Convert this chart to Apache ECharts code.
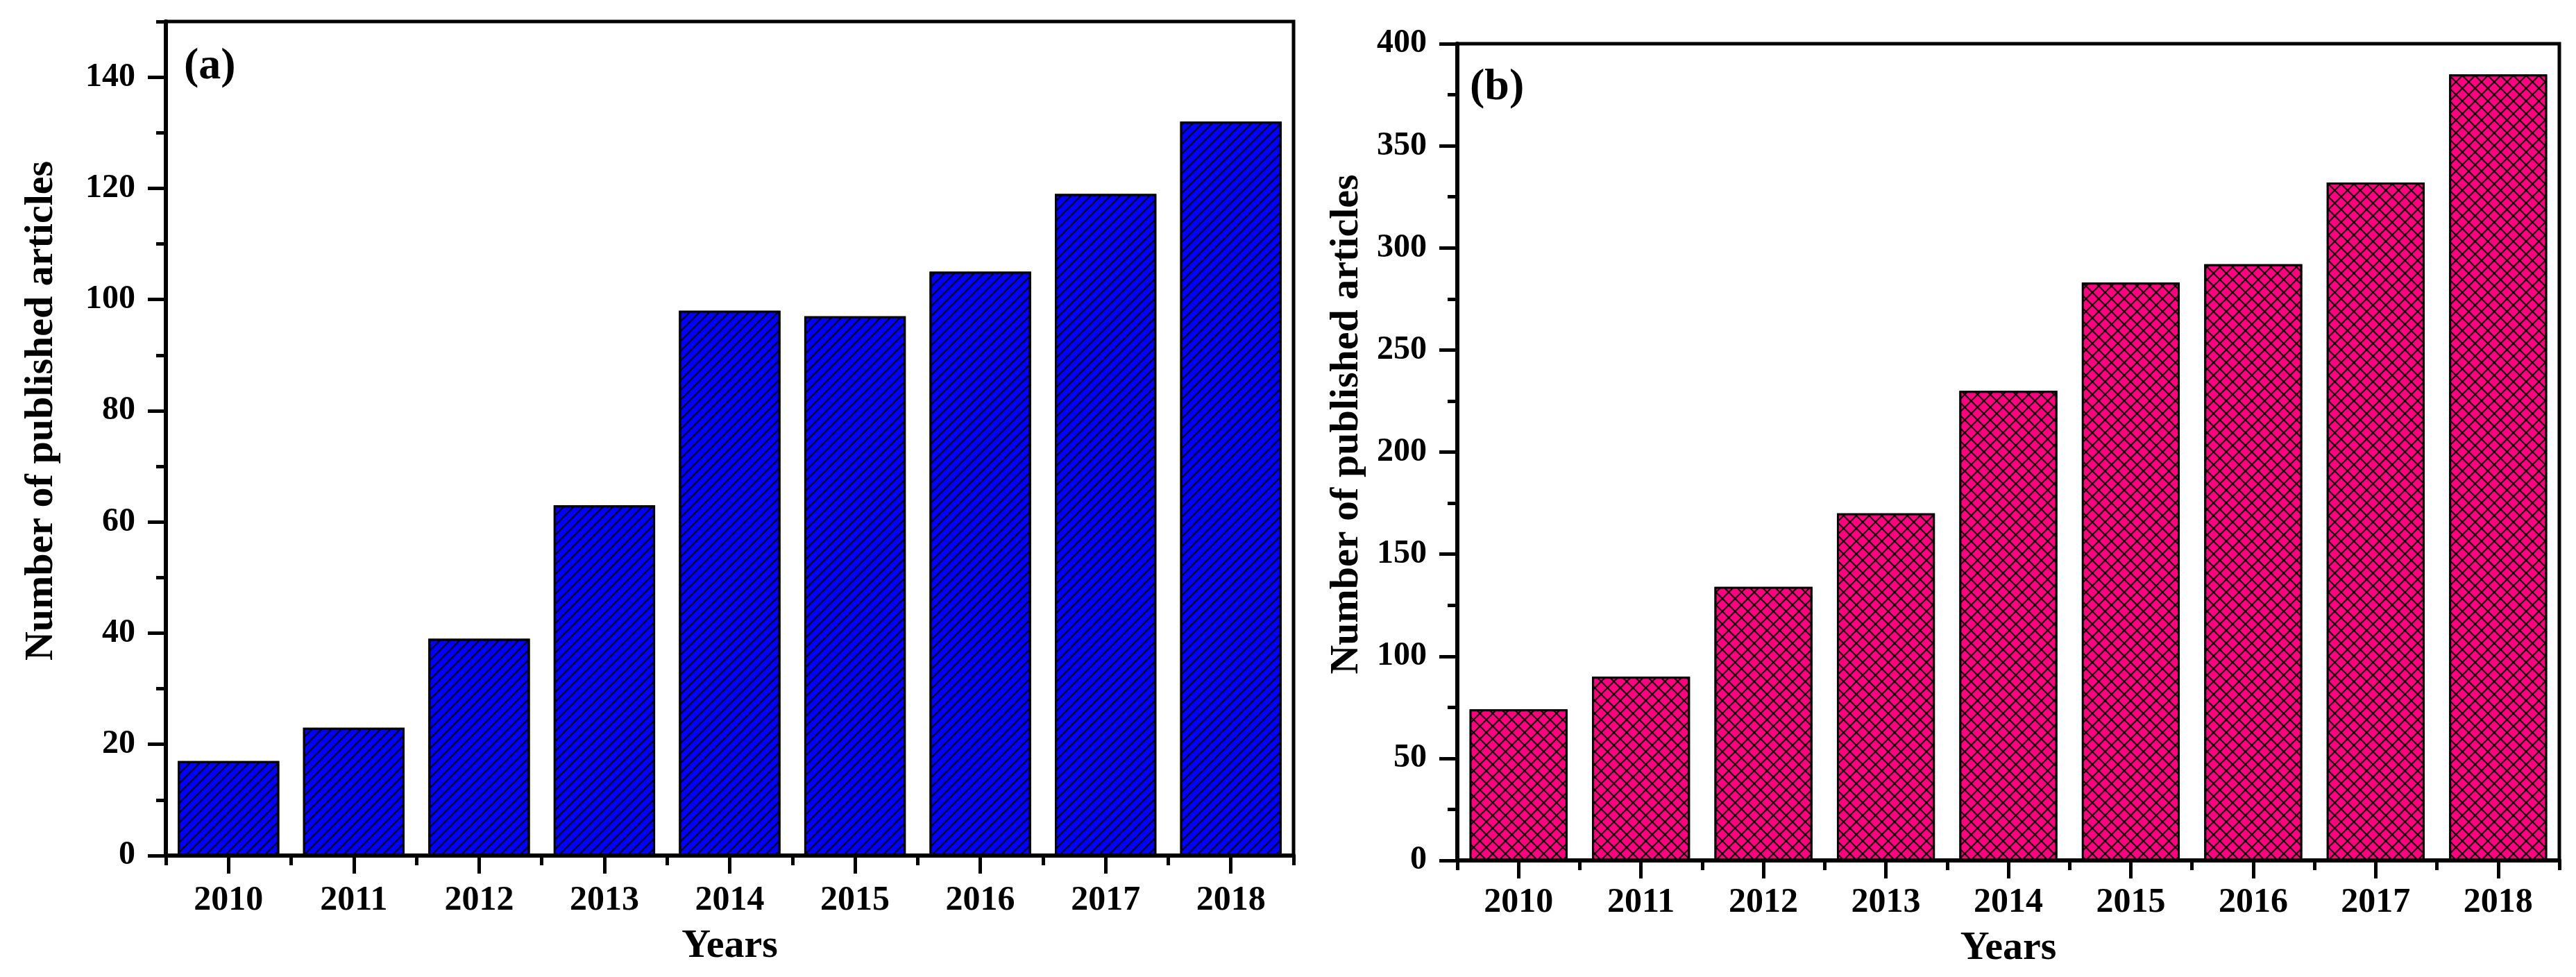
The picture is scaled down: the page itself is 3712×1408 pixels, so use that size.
<!DOCTYPE html>
<html>
<head>
<meta charset="utf-8">
<script src="https://cdn.jsdelivr.net/npm/echarts@6/dist/echarts.min.js"></script>
<style>
html,body{margin:0;padding:0;background:#ffffff;}
#chart{width:3712px;height:1408px;}
</style>
</head>
<body>
<div id="chart"></div>
<script>
// ---- data ----
const years = ['2010', '2011', '2012', '2013', '2014', '2015', '2016', '2017', '2018'];
const articlesA = [17, 23, 39, 63, 98, 97, 105, 119, 132];
const articlesB = [74, 90, 134, 170, 230, 283, 292, 332, 385];
const yTicksA = [0, 20, 40, 60, 80, 100, 120, 140];
const yTicksB = [0, 50, 100, 150, 200, 250, 300, 350, 400];
const xName = 'Years';
const yName = 'Number of published articles';
const panelLabels = ['(a)', '(b)'];

// ---- styles ----
const FONT = "'Liberation Serif', 'Times New Roman', serif";
const txt = (size) => ({ fontFamily: FONT, fontWeight: 'bold', fontSize: size, color: '#000' });

function majorX(gridIndex, margin, gap) {
  return {
    type: 'category', gridIndex: gridIndex, data: years, position: 'bottom',
    boundaryGap: true,
    name: xName, nameLocation: 'middle', nameGap: gap, nameTextStyle: txt(58),
    axisLine: { show: true, lineStyle: { color: '#000', width: 6 } },
    axisTick: { show: true, alignWithLabel: true, inside: false, length: 26, lineStyle: { color: '#000', width: 5 } },
    axisLabel: Object.assign({ margin: margin, interval: 0 }, txt(50)),
    splitLine: { show: false }
  };
}
function minorX(gridIndex) {
  return {
    type: 'category', gridIndex: gridIndex, data: years, position: 'bottom',
    boundaryGap: true,
    axisLine: { show: false },
    axisTick: { show: true, alignWithLabel: false, interval: 0, length: 14, lineStyle: { color: '#000', width: 5 } },
    axisLabel: { show: false },
    splitLine: { show: false }
  };
}
function majorY(gridIndex, max, interval, ticks, gap) {
  return {
    type: 'value', gridIndex: gridIndex, position: 'left', min: 0, max: max, interval: interval,
    name: yName, nameLocation: 'middle', nameGap: gap, nameRotate: 90,
    nameTextStyle: Object.assign({ padding: [0, 0, 0, 80] }, txt(58)),
    axisLine: { show: true, lineStyle: { color: '#000', width: 6 } },
    axisTick: { show: true, inside: false, length: 26, customValues: ticks, lineStyle: { color: '#000', width: 5 } },
    axisLabel: Object.assign({ margin: 44, customValues: ticks }, txt(48)),
    splitLine: { show: false }
  };
}
function minorY(gridIndex, max, interval) {
  return {
    type: 'value', gridIndex: gridIndex, position: 'left', min: 0, max: max, interval: interval,
    axisLine: { show: false },
    axisTick: { show: true, inside: false, length: 14, lineStyle: { color: '#000', width: 5 } },
    axisLabel: { show: false },
    splitLine: { show: false }
  };
}

const chart = echarts.init(document.getElementById('chart'), null, { renderer: 'canvas' });
chart.setOption({
  backgroundColor: '#ffffff',
  animation: false,
  title: [
    { text: panelLabels[0], left: 265, top: 64, padding: 0, textStyle: txt(64) },
    { text: panelLabels[1], left: 2118, top: 94, padding: 0, textStyle: txt(64) }
  ],
  grid: [
    { left: 239, right: 1848, top: 31, bottom: 175, show: true, borderColor: '#000', borderWidth: 5, backgroundColor: 'transparent' },
    { left: 2100, right: 24, top: 63, bottom: 168, show: true, borderColor: '#000', borderWidth: 5, backgroundColor: 'transparent' }
  ],
  xAxis: [
    majorX(0, 40, 102),
    minorX(0),
    majorX(1, 36, 98),
    minorX(1)
  ],
  yAxis: [
    majorY(0, 150, 10, yTicksA, 150),
    minorY(0, 150, 10),
    majorY(1, 400, 50, yTicksB, 130),
    minorY(1, 400, 25)
  ],
  series: [
    {
      type: 'bar', xAxisIndex: 0, yAxisIndex: 0, data: articlesA,
      barCategoryGap: '19%',
      itemStyle: {
        color: '#0000FF', borderColor: '#000', borderWidth: 3,
        decal: { symbol: 'rect', symbolSize: 1, dashArrayX: [1, 0], dashArrayY: [2, 8], rotation: -Math.PI / 4, color: '#000' }
      }
    },
    {
      type: 'bar', xAxisIndex: 2, yAxisIndex: 2, data: articlesB,
      barCategoryGap: '20%',
      itemStyle: {
        color: '#000000', borderColor: '#000', borderWidth: 3,
        decal: { symbol: 'rect', symbolSize: 1, dashArrayX: [11, 1.5], dashArrayY: [11, 1.5], rotation: Math.PI / 4, color: '#FF0080' }
      }
    }
  ]
});
</script>
</body>
</html>
